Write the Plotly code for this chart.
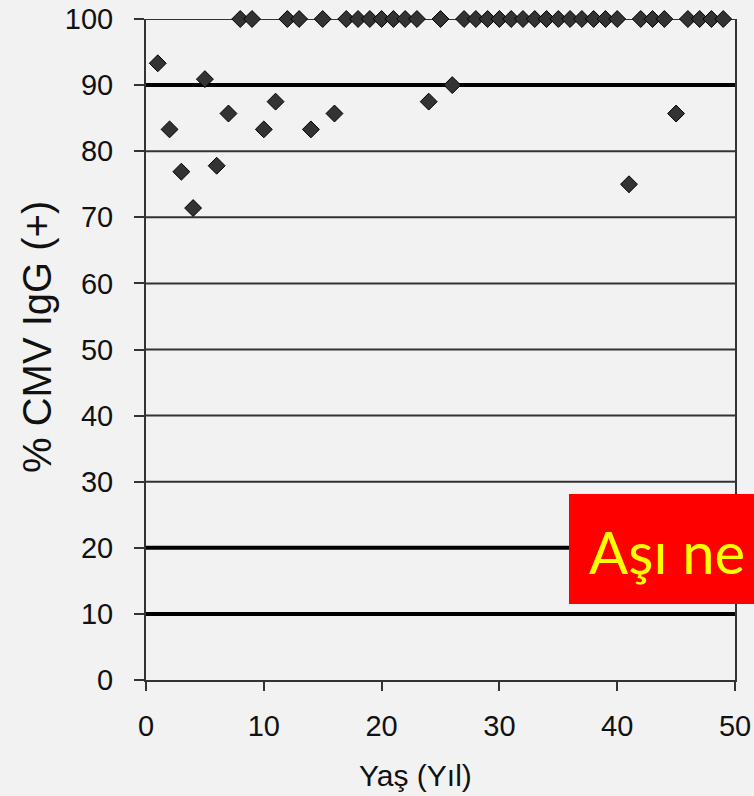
import plotly.graph_objects as go

# Data
ages = [1, 2, 3, 4, 5, 6, 7, 8, 9, 10, 11, 12, 13, 14, 15, 16, 17, 18, 19, 20,
        21, 22, 23, 24, 25, 26, 27, 28, 29, 30, 31, 32, 33, 34, 35, 36, 37, 38,
        39, 40, 41, 42, 43, 44, 45, 46, 47, 48, 49]
pct_pos = [93.3, 83.3, 76.9, 71.4, 90.9, 77.8, 85.7, 100, 100, 83.3, 87.5, 100,
           100, 83.3, 100, 85.7, 100, 100, 100, 100, 100, 100, 100, 87.5, 100,
           90.0, 100, 100, 100, 100, 100, 100, 100, 100, 100, 100, 100, 100, 100,
           100, 75.0, 100, 100, 100, 85.7, 100, 100, 100, 100]

x_ticks = [0, 10, 20, 30, 40, 50]
y_ticks = [0, 10, 20, 30, 40, 50, 60, 70, 80, 90, 100]
grid_thin = [30, 40, 50, 60, 70, 80, 100]
grid_thick = [10, 20, 90]

x_title = "Yaş (Yıl)"
y_title = "% CMV IgG (+)"
box_text = "Aşı ne"

W, H = 754, 796
L, R, T, B = 146, 19, 19, 116
pw, ph = W - L - R, H - T - B


def px_x(p):
    return (p - L) / pw


def px_y(p):
    return (H - B - p) / ph


fig = go.Figure()
fig.add_trace(go.Scatter(
    x=ages, y=pct_pos, mode="markers", cliponaxis=False,
    marker=dict(symbol="diamond", size=13, color="#333333",
                line=dict(color="#000000", width=1)),
    showlegend=False,
))

shapes = []
for v in grid_thin:
    shapes.append(dict(type="line", xref="paper", yref="y", x0=0, x1=1, y0=v, y1=v,
                       line=dict(color="#333333", width=2), layer="below"))
for v in grid_thick:
    shapes.append(dict(type="line", xref="paper", yref="y", x0=0, x1=1, y0=v, y1=v,
                       line=dict(color="#000000", width=4), layer="below"))
# red label box
shapes.append(dict(type="rect", xref="paper", yref="paper",
                   x0=px_x(569), x1=px_x(800), y0=px_y(604), y1=px_y(494),
                   fillcolor="#ff0000", line=dict(width=0), layer="above"))

tickfont = dict(family="Liberation Sans, Arial, sans-serif", size=29, color="#111111")

fig.update_layout(
    width=W, height=H,
    margin=dict(l=L, r=R, t=T, b=B, autoexpand=False),
    paper_bgcolor="#f2f2f2", plot_bgcolor="#f2f2f2",
    shapes=shapes,
    xaxis=dict(range=[0, 50], tickvals=x_ticks, showgrid=False, zeroline=False,
               showline=True, linecolor="#333333", linewidth=2, automargin=False,
               ticks="outside", ticklen=9, tickwidth=2, tickcolor="#333333",
               tickfont=tickfont, ticklabelstandoff=10),
    yaxis=dict(range=[0, 100], tickvals=y_ticks, showgrid=False, zeroline=False,
               showline=True, linecolor="#333333", linewidth=2, mirror=True,
               automargin=False,
               ticks="outside", ticklen=10, tickwidth=2, tickcolor="#333333",
               tickfont=tickfont, ticklabelstandoff=15),
    annotations=[
        dict(text=x_title, xref="paper", yref="paper", x=px_x(415), y=px_y(775),
             xanchor="center", yanchor="middle", showarrow=False,
             font=dict(family="Liberation Sans, Arial, sans-serif", size=30, color="#111111")),
        dict(text=y_title, xref="paper", yref="paper", x=px_x(37), y=px_y(337),
             xanchor="center", yanchor="middle", showarrow=False, textangle=-90,
             font=dict(family="Liberation Sans, Arial, sans-serif", size=40, color="#111111")),
        dict(text=box_text, xref="paper", yref="paper", x=px_x(587), y=px_y(551),
             xanchor="left", yanchor="middle", showarrow=False,
             font=dict(family="Lato, sans-serif", size=58, color="#ffff00")),
    ],
)

fig.write_html(
    "out.html",
    config={"displayModeBar": False},
    post_script="document.body.style.margin='0';document.body.style.overflow='hidden';"
                "document.documentElement.style.overflow='hidden';",
)
